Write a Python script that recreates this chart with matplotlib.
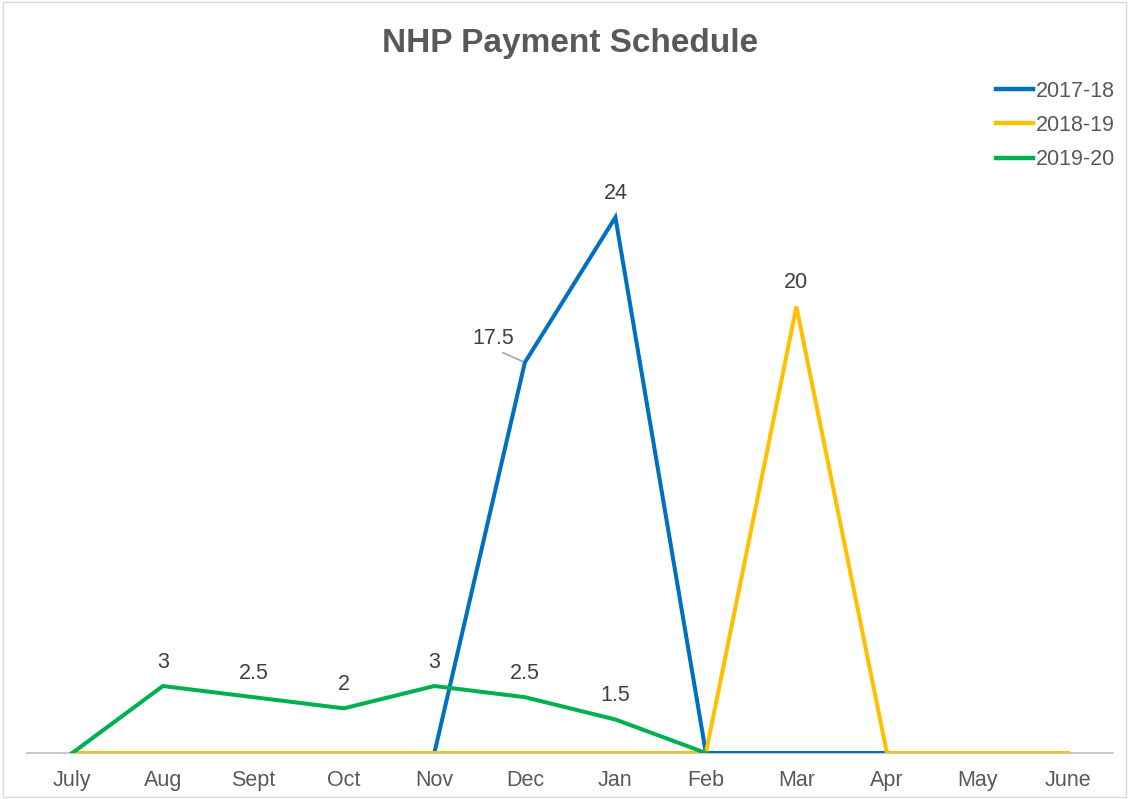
import numpy as np
import matplotlib.pyplot as plt
from matplotlib.patches import Rectangle

plt.rcParams['font.family'] = ['Liberation Sans', 'DejaVu Sans']

months = ['July', 'Aug', 'Sept', 'Oct', 'Nov', 'Dec', 'Jan', 'Feb', 'Mar', 'Apr', 'May', 'June']
fy_2017_18 = [np.nan, np.nan, np.nan, np.nan, 0, 17.5, 24, 0, 0, 0, np.nan, np.nan]
fy_2018_19 = [0, 0, 0, 0, 0, 0, 0, 0, 20, 0, 0, 0]
fy_2019_20 = [0, 3, 2.5, 2, 3, 2.5, 1.5, 0, np.nan, np.nan, np.nan, np.nan]

series_names = ['2017-18', '2018-19', '2019-20']
colors = ['#0070C0', '#FFC000', '#00B050']

fig = plt.figure(figsize=(11.29, 7.99), dpi=100)
ax = fig.add_axes([0.024, 0.0576, 0.962, 0.838])

x = np.arange(len(months))
for vals, name, c in zip([fy_2017_18, fy_2018_19, fy_2019_20], series_names, colors):
    ax.plot(x, vals, color=c, lw=2.9, label=name, solid_joinstyle='miter')

txt = '#404040'
fs = 15.5
# data labels (zeros not labelled)
for vals in [fy_2017_18, fy_2018_19, fy_2019_20]:
    for i, v in enumerate(vals):
        if np.isnan(v) or v == 0:
            continue
        if v == 17.5:
            ax.annotate('17.5', (i, v), xytext=(-23, 17), textcoords='offset points',
                        ha='center', va='center', fontsize=fs, color=txt,
                        arrowprops=dict(arrowstyle='-', color='#a6a6a6', lw=1.2,
                                        shrinkA=1, shrinkB=2, relpos=(0.55, 0)))
        else:
            ax.annotate(f'{v:g}', (i, v), xytext=(0, 17), textcoords='offset points',
                        ha='center', va='center', fontsize=fs, color=txt)

ax.set_xlim(-0.5, len(months) - 0.5)
ax.set_ylim(0, 30)
ax.set_xticks(x)
ax.set_xticklabels(months, fontsize=fs, color='#595959')
ax.tick_params(axis='x', length=0, pad=12)
ax.set_yticks([])
for s in ['top', 'right', 'left']:
    ax.spines[s].set_visible(False)
ax.spines['bottom'].set_color('#bfbfbf')
ax.spines['bottom'].set_linewidth(1.2)
ax.spines['bottom'].set_zorder(0)

fig.text(0.505, 0.945, 'NHP Payment Schedule', ha='center', va='center',
         fontsize=24, fontweight='bold', color='#595959')

leg = fig.legend(loc='upper right', bbox_to_anchor=(0.995, 0.91), frameon=False,
                 fontsize=fs, handlelength=1.75, handletextpad=0.1, labelspacing=0.62,
                 borderaxespad=0)
for t in leg.get_texts():
    t.set_color('#595959')
for h in leg.get_lines():
    h.set_linewidth(3.2)

fig.patches.append(Rectangle((0.003, 0.003), 0.994, 0.994, transform=fig.transFigure,
                             fill=False, edgecolor='#d9d9d9', lw=1))

fig.savefig('out.png', dpi=100)
